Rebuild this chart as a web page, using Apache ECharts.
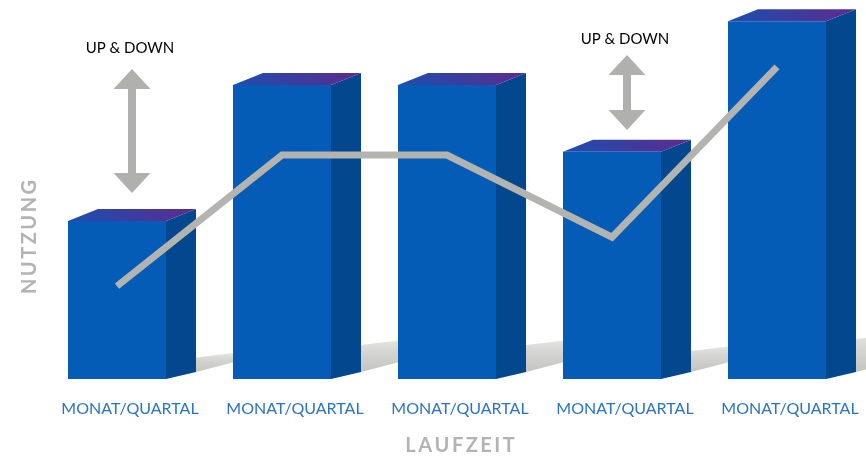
<!DOCTYPE html>
<html><head><meta charset="utf-8">
<script src="https://cdn.jsdelivr.net/npm/echarts@6/dist/echarts.min.js"></script>
<style>html,body{margin:0;padding:0;background:#fff}#c{width:866px;height:457px}</style>
</head><body><div id="c"></div>
<script>
const categories = ['MONAT/QUARTAL','MONAT/QUARTAL','MONAT/QUARTAL','MONAT/QUARTAL','MONAT/QUARTAL'];
const barValues = [43.9, 81.7, 81.7, 63.1, 99.4];
const lineValues = [25.8, 62.2, 62.2, 39.4, 86.7];
const arrowCats = [0, 3];
const arrowTop = [86.1, 90.0];
const arrowBottom = [51.7, 69.2];
const arrowLabelY = [91.9, 94.4];
const arrowLabel = 'UP & DOWN';
const xTitle = 'LAUFZEIT';
const yTitle = 'NUTZUNG';

const FONT = 'Lato, "Open Sans", sans-serif';
const DEPTH_X = 30, DEPTH_TOP = 12, DEPTH_BOT = 7;
const spaced = s => s.split('').join('\u2009');

function renderBar(params, api) {
  const base = api.coord([api.value(0), 0]);
  const top = api.coord([api.value(0), api.value(1)]);
  const band = api.size([1, 0])[0];
  const w = band * 0.594;
  const x0 = base[0] - w / 2, x1 = base[0] + w / 2;
  const yb = base[1], yt = top[1];
  const h = yb - yt;
  const sh = h * 0.092;
  const sx = x1 + DEPTH_X;
  return {
    type: 'group',
    children: [
      { type: 'polygon', shape: { points: [[sx, yb - DEPTH_BOT], [sx, yb - DEPTH_BOT - sh], [sx + 50, yb - DEPTH_BOT - sh - 6], [sx + 50, yb - DEPTH_BOT - 13]] },
        style: { fill: new echarts.graphic.LinearGradient(0, 0, 0, 1, [{offset: 0, color: '#e6e6e4'}, {offset: 0.35, color: '#d6d6d3'}, {offset: 1, color: '#c4c4c0'}]) } },
      { type: 'polygon', shape: { points: [[x1, yt], [sx, yt - DEPTH_TOP], [sx, yb - DEPTH_BOT], [x1, yb]] },
        style: { fill: '#03478e' } },
      { type: 'polygon', shape: { points: [[x0, yt], [x0 + DEPTH_X, yt - DEPTH_TOP], [sx, yt - DEPTH_TOP], [x1, yt]] },
        style: { fill: new echarts.graphic.LinearGradient(0, 0, 1, 0, [{offset: 0, color: '#1c4eaf'}, {offset: 1, color: '#5d2b8e'}]) } },
      { type: 'rect', shape: { x: x0, y: yt, width: w, height: h }, style: { fill: '#045cb6' } }
    ]
  };
}

function renderArrow(params, api) {
  const cat = api.value(0);
  const pTop = api.coord([cat, api.value(1)]);
  const pBot = api.coord([cat, api.value(2)]);
  const pLab = api.coord([cat, api.value(3)]);
  const cx = pTop[0] + 15;
  const yt = pTop[1], yb = pBot[1];
  const hw = 18.5, hh = 20, sw = 4;
  return {
    type: 'group',
    children: [
      { type: 'polygon', shape: { points: [[cx, yt], [cx + hw, yt + hh], [cx + sw, yt + hh], [cx + sw, yb - hh], [cx + hw, yb - hh], [cx, yb], [cx - hw, yb - hh], [cx - sw, yb - hh], [cx - sw, yt + hh], [cx - hw, yt + hh]] },
        style: { fill: '#b0b1ac' } },
      { type: 'text', style: { text: arrowLabel, x: cx - 2, y: pLab[1], align: 'center', verticalAlign: 'middle', fill: '#000', font: '15px ' + FONT } }
    ]
  };
}

const chart = echarts.init(document.getElementById('c'), null, { renderer: 'canvas' });
chart.setOption({
  animation: false,
  backgroundColor: '#fff',
  grid: { left: 34.5, right: 6.5, top: 19, bottom: 78, containLabel: false, outerBoundsMode: 'none' },
  xAxis: {
    type: 'category', data: categories,
    axisLine: { show: false }, axisTick: { show: false },
    axisLabel: { color: '#2a72c6', fontSize: 16, fontFamily: FONT, margin: 22, padding: [0, 0, 0, 26], interval: 0 },
    name: spaced(xTitle), nameLocation: 'middle', nameGap: 57,
    nameTextStyle: { color: '#b3b3b3', fontSize: 20, fontWeight: 'bold', fontFamily: FONT, padding: [0, 0, 0, 26] }
  },
  yAxis: {
    type: 'value', min: 0, max: 100,
    axisLine: { show: false }, axisTick: { show: false }, axisLabel: { show: false }, splitLine: { show: false },
    name: spaced(yTitle), nameLocation: 'middle', nameGap: -5, nameRotate: 90,
    nameTextStyle: { color: '#b3b3b3', fontSize: 20, fontWeight: 'bold', fontFamily: FONT, padding: [0, 76, 0, 0] }
  },
  series: [
    { type: 'custom', renderItem: renderBar, data: barValues.map((v, i) => [i, v]), z: 1, clip: false },
    { type: 'line', data: lineValues, symbol: 'none', z: 5,
      lineStyle: { color: '#b3b4af', width: 7, cap: 'butt', join: 'miter' } },
    { type: 'custom', renderItem: renderArrow, data: arrowCats.map((c, i) => [c, arrowTop[i], arrowBottom[i], arrowLabelY[i]]), z: 6, clip: false }
  ]
});
</script></body></html>
